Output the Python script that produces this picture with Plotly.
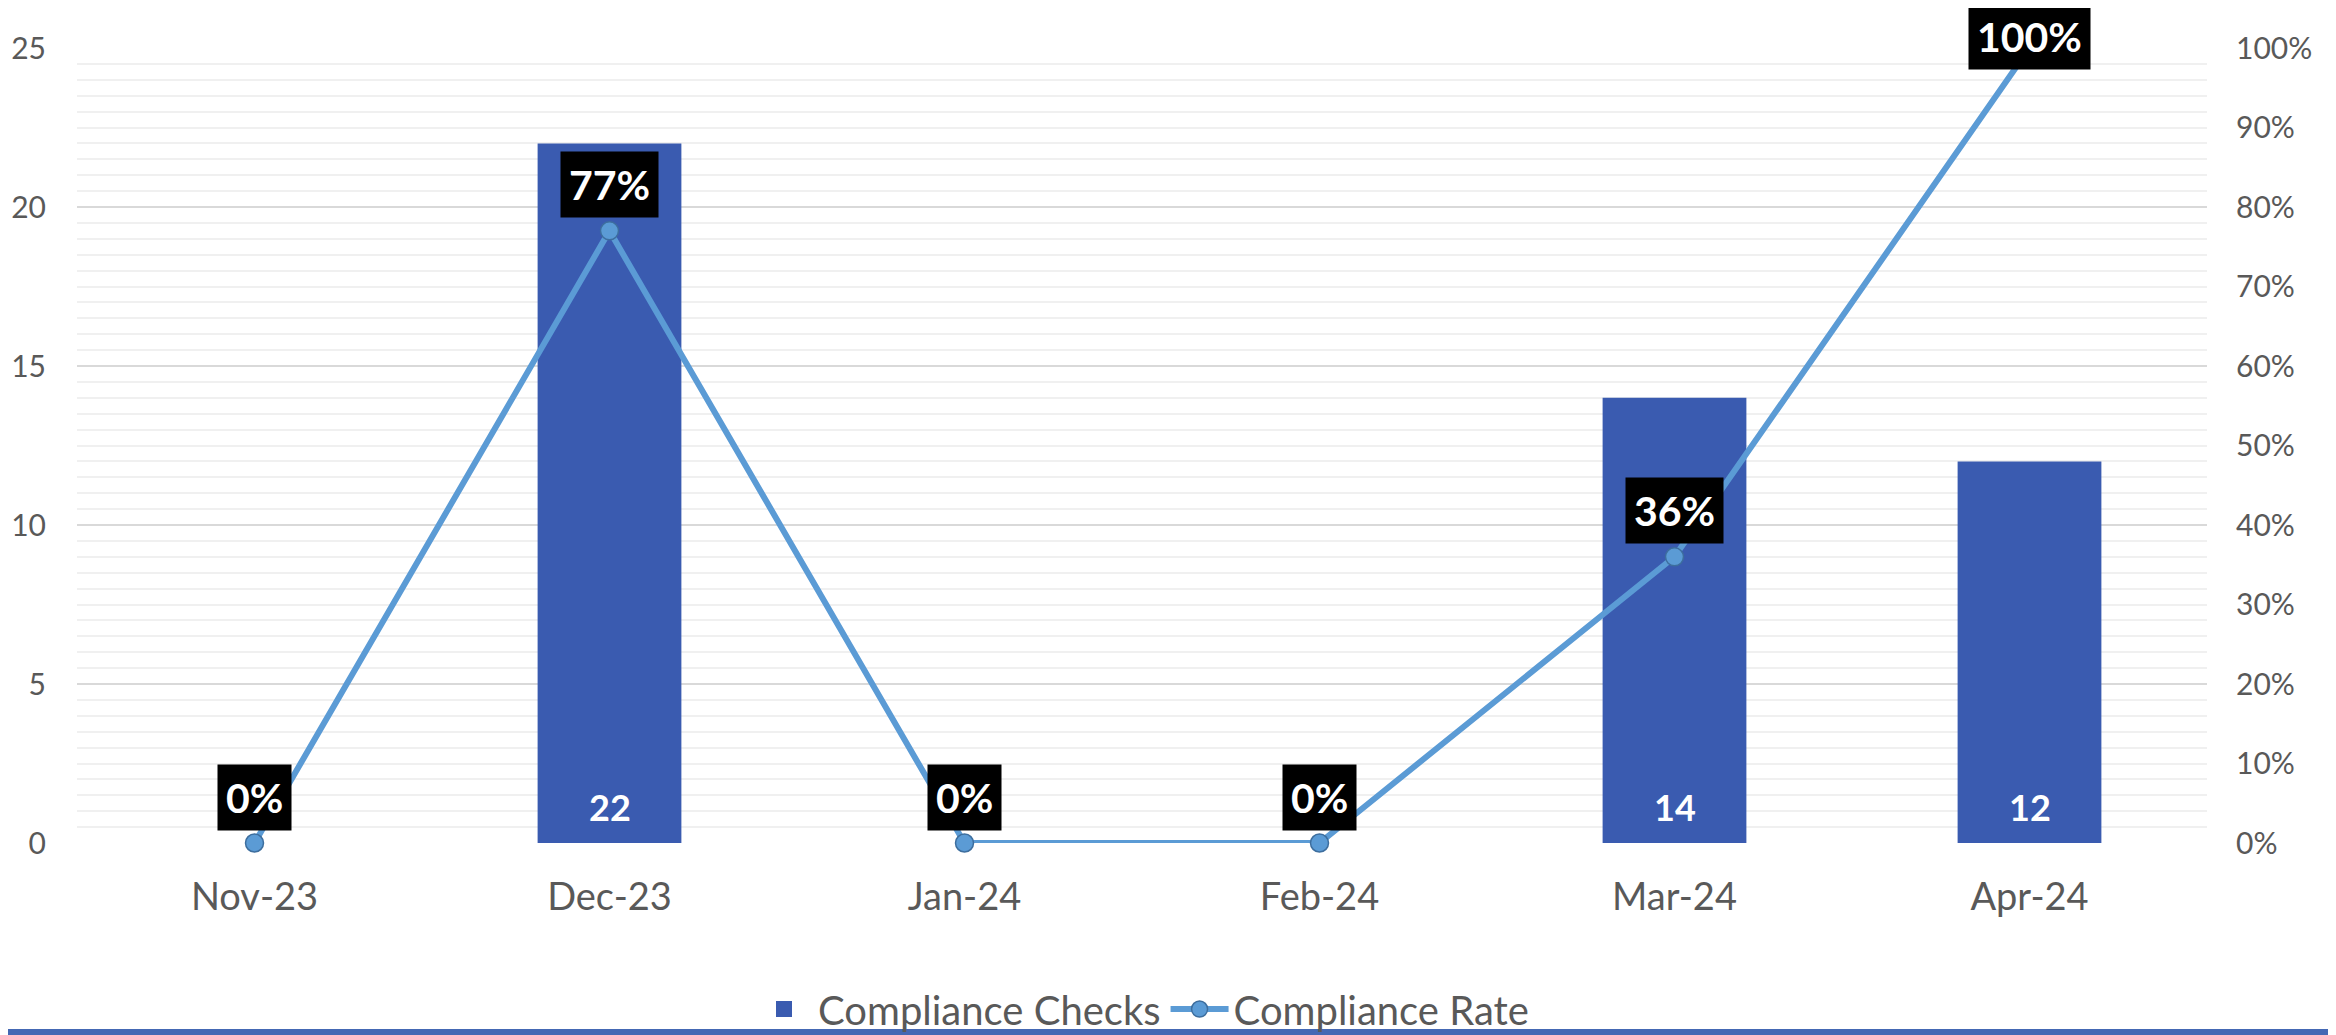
import plotly.graph_objects as go

months = ["Nov-23", "Dec-23", "Jan-24", "Feb-24", "Mar-24", "Apr-24"]
checks = [0, 22, 0, 0, 14, 12]
rates = [0.0, 0.77, 0.0, 0.0, 0.36, 1.0]

FONT = "Lato"
GRAY = "#595959"
BAR = "#3A5BB0"
LINE = "#5B9BD5"

fig = go.Figure()

fig.add_trace(go.Bar(
    x=months, y=checks, name="Compliance Checks",
    marker=dict(color=BAR, line=dict(width=0)),
    width=0.405, showlegend=False,
))

# legend proxy with a large square swatch
fig.add_trace(go.Scatter(
    x=[None], y=[None], mode="markers", name="Compliance Checks",
    marker=dict(symbol="square", size=30, color=BAR),
))

fig.add_trace(go.Scatter(
    x=months, y=rates, name="Compliance Rate", yaxis="y2",
    mode="lines+markers",
    line=dict(color=LINE, width=6),
    marker=dict(size=18, color=LINE, line=dict(color="#3D6E9E", width=1.5)),
    cliponaxis=False,
))

for m, v in zip(months, checks):
    if v:
        fig.add_annotation(
            x=m, y=0, xref="x", yref="y", yanchor="bottom",
            text=str(v), showarrow=False, yshift=12,
            font=dict(family=FONT, size=36, color="white", weight="bold"),
        )

for m, r in zip(months, rates):
    fig.add_annotation(
        x=m, y=r, xref="x", yref="y2",
        text=f"{round(r*100)}%", showarrow=False,
        font=dict(family=FONT, size=41, color="white", weight="bold"),
        bgcolor="black", borderpad=8,
        yshift=46 if r < 0.9 else 12,
    )

fig.add_shape(type="line", xref="paper", yref="paper",
              x0=-0.05, x1=1.07, y0=-0.2377, y1=-0.2377,
              line=dict(color="#4468B4", width=6))

fig.update_layout(
    width=2336, height=1035,
    margin=dict(l=69, r=137, t=40, b=200, autoexpand=False),
    paper_bgcolor="white", plot_bgcolor="white",
    font=dict(family=FONT, color=GRAY),
    bargap=0.595,
    showlegend=True,
    legend=dict(orientation="h", x=0.5, xanchor="center", y=-0.168, yanchor="top",
                bgcolor="rgba(0,0,0,0)",
                font=dict(size=40, color=GRAY), itemwidth=58, tracegroupgap=0),
    xaxis=dict(showgrid=False, ticks="", tickfont=dict(size=38, color=GRAY),
               ticklabelstandoff=28, showline=False, zeroline=False, automargin=False),
    yaxis=dict(range=[0, 25], dtick=5, tickfont=dict(size=30, color=GRAY),
               gridcolor="#D9D9D9", gridwidth=1.5, zeroline=False,
               ticks="", ticklabelstandoff=30, automargin=False,
               minor=dict(dtick=0.5, showgrid=True, gridcolor="#F0F0F0", gridwidth=1.5)),
    yaxis2=dict(range=[0, 1], dtick=0.1, tickformat=".0%", overlaying="y", side="right",
                showgrid=False, zeroline=False, ticks="", automargin=False,
                tickfont=dict(size=30, color=GRAY), ticklabelstandoff=28),
)

fig.write_html("out.html")
